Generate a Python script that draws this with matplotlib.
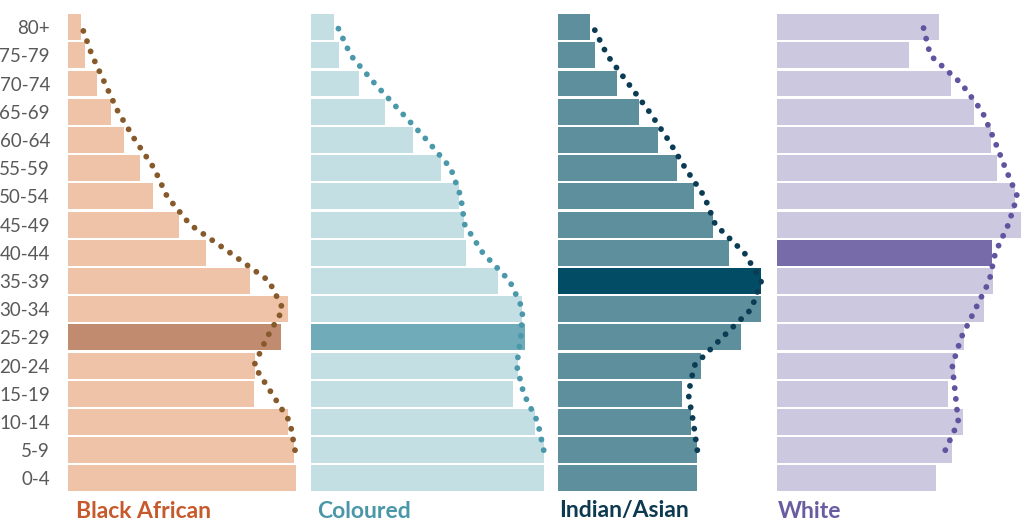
import numpy as np
import matplotlib
matplotlib.use("Agg")
import matplotlib.pyplot as plt

# age groups, bottom to top
ages = ["0-4", "5-9", "10-14", "15-19", "20-24", "25-29", "30-34", "35-39",
        "40-44", "45-49", "50-54", "55-59", "60-64", "65-69", "70-74", "75-79", "80+"]

# percentage of each group (bars) and comparison profile (dots, 5-9 to 80+)
black_bars = [11.4, 11.3, 11.0, 9.3, 9.35, 10.65, 11.0, 9.1, 6.9, 5.55, 4.25, 3.6, 2.8, 2.15, 1.45, 0.85, 0.65]
black_line = [11.35, 11.1, 10.2, 9.3, 9.95, 10.75, 10.05, 8.1, 6.1, 4.95, 4.3, 3.35, 2.5, 1.85, 1.2, 0.7]

coloured_bars = [11.65, 11.65, 11.2, 10.1, 10.35, 10.7, 10.55, 9.35, 7.75, 7.65, 7.4, 6.5, 5.1, 3.7, 2.4, 1.4, 1.15]
coloured_line = [11.65, 11.35, 10.65, 10.3, 10.5, 10.6, 9.95, 8.6, 7.7, 7.5, 7.0, 5.8, 4.5, 3.2, 2.0, 1.35]

indian_bars = [6.95, 6.95, 6.65, 6.2, 7.15, 9.15, 10.15, 10.15, 8.55, 7.75, 6.8, 5.95, 5.0, 4.05, 2.95, 1.85, 1.6]
indian_line = [6.95, 6.75, 6.5, 6.8, 8.2, 9.65, 10.15, 9.3, 7.85, 7.3, 6.35, 5.5, 4.55, 3.5, 2.45, 1.75]

white_bars = [7.95, 8.75, 9.3, 8.55, 8.9, 9.35, 10.35, 10.8, 10.75, 12.2, 11.9, 11.0, 10.7, 9.85, 8.7, 6.6, 8.1]
white_line = [8.4, 9.05, 8.9, 8.75, 9.2, 9.9, 10.6, 10.9, 11.55, 12.0, 11.4, 10.85, 10.25, 9.2, 7.65, 7.3]

groups = ["Black African", "Coloured", "Indian/Asian", "White"]
highlight = ["25-29", "25-29", "35-39", "40-44"]

bars = [black_bars, coloured_bars, indian_bars, white_bars]
lines = [black_line, coloured_line, indian_line, white_line]

bar_col = ["#EEC3A7", "#C3DFE4", "#5E8F9D", "#CBC8DF"]
hi_col = ["#C08B6F", "#6FABB8", "#034C65", "#776CA9"]
dot_col = ["#875A2C", "#4A98AA", "#0B3C54", "#5F54A0"]
txt_col = ["#C75A2C", "#4A97A8", "#0D3A50", "#6A5CA0"]

W, H = 1021, 521
px = 20.0  # pixels per percent
left_px = [68, 310.7, 558.3, 777.3]
label_px = [76, 317, 559, 778]

fig = plt.figure(figsize=(W / 100, H / 100), dpi=100)
y = np.arange(len(ages))
for k in range(4):
    ax = fig.add_axes([left_px[k] / W, 28.5 / H, 243.7 / W, 479.5 / H])
    cols = [hi_col[k] if a == highlight[k] else bar_col[k] for a in ages]
    ax.barh(y, bars[k], height=0.92, color=cols, zorder=1)
    ax.plot(lines[k], y[1:], color=dot_col[k], lw=4.2, ls=(0, (0.01, 1.85)),
            dash_capstyle="round", zorder=3, clip_on=False)
    ax.set_xlim(0, 243.7 / px)
    ax.set_ylim(-0.5, len(ages) - 0.5)
    for s in ax.spines.values():
        s.set_visible(False)
    ax.set_xticks([])
    if k == 0:
        ax.set_yticks(y)
        ax.set_yticklabels(ages, fontsize=13.5, color="#595959", family="Lato")
        ax.tick_params(axis="y", length=0, pad=13)
    else:
        ax.set_yticks([])
    fig.text(label_px[k] / W, 3.5 / H, groups[k], fontsize=16.5, fontweight="bold",
             color=txt_col[k], family="Lato", va="baseline", ha="left")

fig.savefig("out.png", dpi=100)
